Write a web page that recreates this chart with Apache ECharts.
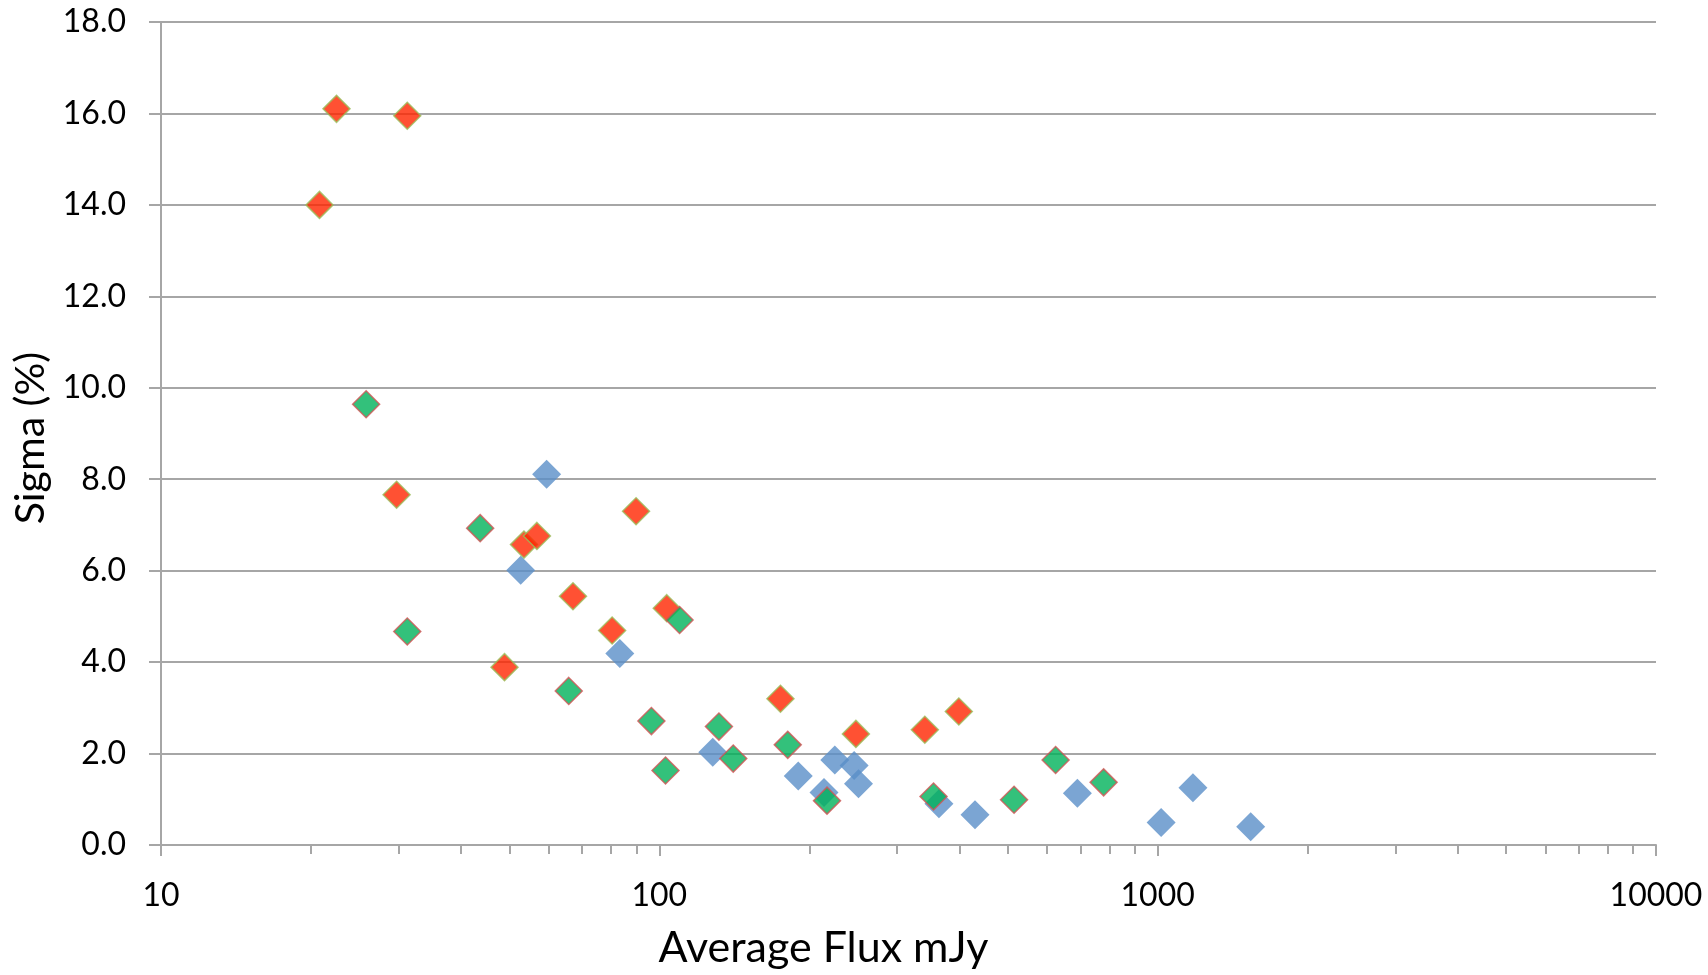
<!DOCTYPE html>
<html>
<head>
<meta charset="utf-8">
<script src="https://cdn.jsdelivr.net/npm/echarts@6/dist/echarts.min.js"></script>
<style>
  html, body { margin: 0; padding: 0; background: #ffffff; }
  #chart { width: 1708px; height: 975px; }
</style>
</head>
<body>
<div id="chart"></div>
<script>
// Red-filled diamonds: average flux (mJy) and sigma (%)
const redFlux  = [20.8, 22.5, 31.2, 29.7, 48.9, 53.5, 56.8, 67.1, 80.4, 89.8, 103.5, 175, 248, 341, 399];
const redSigma = [14.0, 16.1, 15.95, 7.66, 3.89, 6.57, 6.76, 5.44, 4.69, 7.30, 5.18, 3.20, 2.43, 2.52, 2.92];

// Blue diamonds
const blueFlux  = [59.4, 52.7, 83.3, 128, 190, 214, 225, 246, 251, 364, 430, 690, 1016, 1177, 1537];
const blueSigma = [8.11, 6.01, 4.19, 2.03, 1.51, 1.15, 1.86, 1.74, 1.34, 0.90, 0.66, 1.13, 0.49, 1.25, 0.40];

// Green-filled diamonds
const greenFlux  = [25.8, 31.2, 43.7, 65.8, 96.4, 102.9, 109.8, 131.7, 140.7, 181, 217, 355, 515, 624, 779];
const greenSigma = [9.64, 4.67, 6.93, 3.37, 2.71, 1.63, 4.92, 2.59, 1.89, 2.19, 0.97, 1.06, 0.99, 1.86, 1.37];

// Axis ranges and labels
const xMin = 10, xMax = 10000;
const yMin = 0, yMax = 18, yStep = 2;
const xTitle = 'Average Flux mJy';
const yTitle = 'Sigma (%)';

// Minor tick values between decades (2..9 x 10^n)
const minorTickValues = [];
for (let dec = 10; dec < xMax; dec *= 10) {
  for (let k = 2; k <= 9; k++) minorTickValues.push(k * dec);
}

const pairs = (xs, ys) => xs.map((x, i) => [x, ys[i]]);
const FONT = 'Lato, "Open Sans", sans-serif';
const GRAY = '#a6a6a6';

const chart = echarts.init(document.getElementById('chart'), null, { renderer: 'canvas' });

chart.setOption({
  animation: false,
  backgroundColor: '#ffffff',
  grid: { left: 161, right: 52, top: 22, bottom: 121, containLabel: false },
  xAxis: [
    {
      type: 'log',
      logBase: 10,
      min: xMin,
      max: xMax,
      position: 'bottom',
      name: xTitle,
      nameLocation: 'middle',
      nameGap: 82,
      nameTextStyle: { fontFamily: FONT, fontSize: 43, color: '#000000', padding: [0, 170, 0, 0] },
      axisLine: { show: true, lineStyle: { color: GRAY, width: 2 } },
      axisTick: { show: true, inside: false, length: 11, lineStyle: { color: GRAY, width: 2 } },
      axisLabel: {
        fontFamily: FONT, fontSize: 32, color: '#000000', margin: 35,
        formatter: v => String(Math.round(v))
      },
      splitLine: { show: false },
      minorTick: { show: false },
      minorSplitLine: { show: false }
    },
    {
      // Carries the 20, 30, ... 90 minor ticks of each decade
      type: 'log',
      logBase: 10,
      min: xMin,
      max: xMax,
      position: 'bottom',
      axisLine: { show: false },
      axisTick: { show: true, inside: false, length: 9, customValues: minorTickValues, lineStyle: { color: GRAY, width: 2 } },
      axisLabel: { show: false },
      splitLine: { show: false }
    }
  ],
  yAxis: {
    type: 'value',
    min: yMin,
    max: yMax,
    interval: yStep,
    name: yTitle,
    nameLocation: 'middle',
    nameRotate: 90,
    nameGap: 110,
    nameTextStyle: { fontFamily: FONT, fontSize: 41, color: '#000000', padding: [0, 9, 0, 0] },
    axisLine: { show: true, lineStyle: { color: GRAY, width: 2 } },
    axisTick: { show: true, inside: false, length: 12, lineStyle: { color: GRAY, width: 2 } },
    axisLabel: {
      fontFamily: FONT, fontSize: 32, color: '#000000', margin: 35,
      formatter: v => v.toFixed(1)
    },
    splitLine: { show: true, lineStyle: { color: GRAY, width: 2 } }
  },
  series: [
    {
      name: 'red',
      type: 'scatter',
      symbol: 'diamond',
      symbolSize: 27,
      data: pairs(redFlux, redSigma),
      itemStyle: { color: '#ff2600', borderColor: '#9bbb59', borderWidth: 1.5 },
      z: 2
    },
    {
      name: 'blue',
      type: 'scatter',
      symbol: 'diamond',
      symbolSize: 29,
      data: pairs(blueFlux, blueSigma),
      itemStyle: { color: '#5a8fc8' },
      z: 3
    },
    {
      name: 'green',
      type: 'scatter',
      symbol: 'diamond',
      symbolSize: 27,
      data: pairs(greenFlux, greenSigma),
      itemStyle: { color: '#00b25a', borderColor: '#d05555', borderWidth: 1.5 },
      z: 4
    }
  ]
});
</script>
</body>
</html>
